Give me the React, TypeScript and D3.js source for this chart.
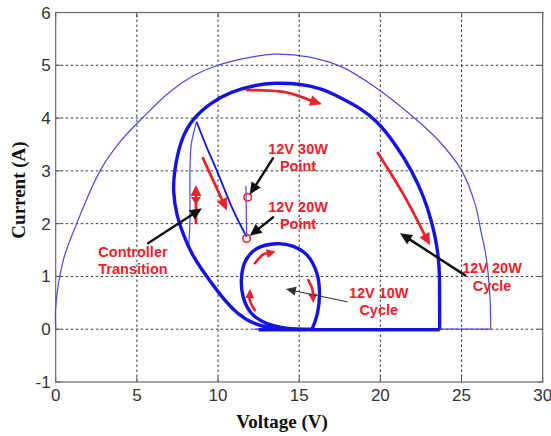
import React from 'react';
import * as d3 from 'd3';

type P = [number, number];

// Axes
const xTicks = [0, 5, 10, 15, 20, 25, 30];
const yTicks = [-1, 0, 1, 2, 3, 4, 5, 6];

// Source characteristic (thin outer trace), voltage V vs current A
const sourceArc: P[] = [
  [0, 0], [0, 0.42], [0.47, 1.31], [1.29, 2.0], [2.73, 3.0], [3.96, 3.55],
  [5.4, 4.02], [7.04, 4.5], [8.48, 4.8], [10, 5.0], [11.97, 5.15], [13.5, 5.21],
  [15.56, 5.16], [17.62, 4.97], [19.67, 4.59], [22.03, 4.02], [23.57, 3.58], [25.0, 3.01],
  [25.83, 2.38], [26.2, 1.85], [26.5, 1.4], [26.66, 0.99], [26.76, 0.55], [26.8, 0.0],
];
const sourceReturn: P[] = [[26.8, 0.0], [12.2, 0.0]];

// 12V 20W cycle
const cycle20: P[] = [
  [23.65, 0.0], [23.65, 0.4], [23.65, 0.8], [23.63, 1.2], [23.48, 1.6], [23.2, 2.0],
  [22.7, 2.5], [21.95, 3.0], [20.95, 3.5], [19.8, 3.95], [18.7, 4.2], [17.6, 4.38],
  [16.3, 4.57], [15.0, 4.65], [13.5, 4.67], [12.2, 4.62], [10.8, 4.5], [9.6, 4.3],
  [8.45, 4.0], [7.7, 3.6], [7.3, 3.0], [7.22, 2.6], [7.45, 2.15], [7.85, 1.8],
  [8.4, 1.4], [9.3, 1.0], [10.2, 0.62], [11.2, 0.28], [12.3, 0.08], [13.6, 0.0],
];
const cycle20Floor: P[] = [[12.5, -0.01], [23.65, -0.01]];

// Controller transition traces
const transitionLeft: P[] = [[8.2, 1.6], [8.27, 2.06], [8.27, 3.0], [8.35, 3.5], [8.68, 3.93]];
const transitionDiag: P[] = [[8.68, 3.93], [9.3, 3.45], [9.92, 3.01], [10.94, 2.25], [11.76, 1.75]];
const pointRise: P[] = [[11.76, 1.75], [11.72, 2.72]];

// 12V 10W cycle
const cycle10: P[] = [
  [15.8, 0], [16.12, 0.3], [16.25, 0.65], [16.1, 1.05], [15.5, 1.4], [14.64, 1.57],
  [13.6, 1.62], [12.4, 1.53], [11.7, 1.3], [11.45, 0.99], [11.55, 0.61], [12.06, 0.3],
  [12.98, 0.11], [14.2, 0.02], [15.8, 0],
];

// Operating points
const opPoints: P[] = [[11.83, 2.5], [11.76, 1.72]];

// Direction arrows (red) and callout arrows (black)
const redArrows: P[][] = [
  [[11.78, 4.53], [14.12, 4.49], [16.4, 4.26]],
  [[19.85, 3.34], [21.45, 2.54], [23.06, 1.59]],
  [[9.07, 3.24], [10.55, 2.25]],
  [[12.27, 1.25], [12.8, 1.42], [13.55, 1.47]],
  [[12.27, 0.36], [11.95, 0.55], [11.97, 0.76]],
  [[15.56, 0.93], [15.82, 0.75], [15.87, 0.5]],
];
const transitionMarker: P[] = [[8.64, 1.99], [8.64, 2.73]];
const blackArrows: P[][] = [
  [[13.39, 3.24], [11.95, 2.55]],
  [[13.39, 2.12], [11.95, 1.77]],
  [[5.69, 1.63], [9.01, 2.29]],
  [[25.22, 1.02], [21.21, 1.82]],
];
const thinArrows: P[][] = [[[17.94, 0.52], [14.18, 0.76]]];

// Annotation labels: [V, I] centre
const labelText: string[][] = [
  ['12V 30W', 'Point'],
  ['12V 20W', 'Point'],
  ['Controller', 'Transition'],
  ['12V 10W', 'Cycle'],
  ['12V 20W', 'Cycle'],
];
const labelPos: P[] = [[14.93, 3.26], [14.93, 2.16], [4.76, 1.31], [19.9, 0.53], [26.88, 0.99]];

const W = 551;
const H = 436;
const X0 = 55.7, X1 = 542.7, Y0 = 382, Y1 = 12.5;

const RED = '#e8232b';
const BLUE = '#1414e0';
const THIN = '#4a4ad6';

function arrowHead(tip: [number, number], from: [number, number], len: number, half: number) {
  const dx = tip[0] - from[0];
  const dy = tip[1] - from[1];
  const d = Math.hypot(dx, dy) || 1;
  const ux = dx / d, uy = dy / d;
  const bx = tip[0] - ux * len, by = tip[1] - uy * len;
  return `M${tip[0]},${tip[1]}L${bx - uy * half},${by + ux * half}L${bx + uy * half},${by - ux * half}Z`;
}

export default function App() {
  const x = d3.scaleLinear().domain([0, 30]).range([X0, X1]);
  const y = d3.scaleLinear().domain([-1, 6]).range([Y0, Y1]);
  const smooth = d3.line<P>().x(d => x(d[0])).y(d => y(d[1])).curve(d3.curveCatmullRom.alpha(0.5));
  const soft = d3.line<P>().x(d => x(d[0])).y(d => y(d[1])).curve(d3.curveBasis);
  const straight = d3.line<P>().x(d => x(d[0])).y(d => y(d[1]));
  const px = (p: P): [number, number] => [x(p[0]), y(p[1])];

  const arrow = (pts: P[], color: string, width: number, len: number, half: number, key: string) => {
    const sp = pts.map(px);
    const tip = sp[sp.length - 1];
    const prev = sp[sp.length - 2];
    const d = Math.hypot(tip[0] - prev[0], tip[1] - prev[1]);
    const t = Math.max(0, (d - len * 0.8) / d);
    const shaftEnd: [number, number] = [prev[0] + (tip[0] - prev[0]) * t, prev[1] + (tip[1] - prev[1]) * t];
    const shaftPts = [...sp.slice(0, -1), shaftEnd];
    const shaft = d3.line().curve(d3.curveCatmullRom)(shaftPts as [number, number][]) || '';
    return (
      <g key={key}>
        <path d={shaft} fill="none" stroke={color} strokeWidth={width} strokeLinecap="round" />
        <path d={arrowHead(tip, prev, len, half)} fill={color} />
      </g>
    );
  };

  const tm0 = px(transitionMarker[0]);
  const tm1 = px(transitionMarker[1]);

  return (
    <svg width={W} height={H} style={{ position: 'absolute', left: 0, top: 0, background: '#fff' }}
      fontFamily="'Liberation Sans', Arial, sans-serif">
      {/* grid */}
      <g stroke="#222" strokeWidth={0.9} strokeDasharray="2.5,2.5">
        {xTicks.slice(1, -1).map(t => (
          <line key={'gx' + t} x1={x(t)} x2={x(t)} y1={Y0} y2={Y1} />
        ))}
        {yTicks.slice(1, -1).map(t => (
          <line key={'gy' + t} x1={X0} x2={X1} y1={y(t)} y2={y(t)} />
        ))}
      </g>
      {/* ticks */}
      <g stroke="#555" strokeWidth={1}>
        {xTicks.map(t => (
          <g key={'tx' + t}>
            <line x1={x(t)} x2={x(t)} y1={Y0} y2={Y0 - 5} />
            <line x1={x(t)} x2={x(t)} y1={Y1} y2={Y1 + 5} />
          </g>
        ))}
        {yTicks.map(t => (
          <g key={'ty' + t}>
            <line x1={X0} x2={X0 + 5} y1={y(t)} y2={y(t)} />
            <line x1={X1} x2={X1 - 5} y1={y(t)} y2={y(t)} />
          </g>
        ))}
      </g>
      <rect x={X0} y={Y1} width={X1 - X0} height={Y0 - Y1} fill="none" stroke="#666" strokeWidth={1.2} />

      {/* tick labels */}
      <g fill="#333" fontSize={17}>
        {xTicks.map(t => (
          <text key={'lx' + t} x={x(t)} y={Y0 + 19} textAnchor="middle">{t}</text>
        ))}
        {yTicks.map(t => (
          <text key={'ly' + t} x={X0 - 5} y={y(t) + 6} textAnchor="end">{t}</text>
        ))}
      </g>

      {/* axis titles */}
      <text x={282} y={428} textAnchor="middle" fontFamily="'Liberation Serif', 'Times New Roman', serif"
        fontWeight="bold" fontSize={19} fill="#111">Voltage (V)</text>
      <text transform="translate(25,190) rotate(-90)" textAnchor="middle"
        fontFamily="'Liberation Serif', 'Times New Roman', serif" fontWeight="bold" fontSize={19} fill="#111">Current (A)</text>

      {/* traces */}
      <path d={smooth(sourceArc) || ''} fill="none" stroke={THIN} strokeWidth={1.2} />
      <path d={straight(sourceReturn) || ''} fill="none" stroke={THIN} strokeWidth={1.2} />
      <path d={smooth(transitionLeft) || ''} fill="none" stroke={THIN} strokeWidth={1.2} />
      <path d={smooth(transitionDiag) || ''} fill="none" stroke={BLUE} strokeWidth={1.8} />
      <path d={straight(pointRise) || ''} fill="none" stroke={THIN} strokeWidth={1.2} />
      <path d={soft(cycle20) || ''} fill="none" stroke={BLUE} strokeWidth={3.4} />
      <path d={straight(cycle20Floor) || ''} fill="none" stroke={BLUE} strokeWidth={3.4} />
      <path d={smooth(cycle10) || ''} fill="none" stroke={BLUE} strokeWidth={3.4} />

      {/* operating points */}
      {opPoints.map((p, i) => (
        <circle key={'op' + i} cx={x(p[0])} cy={y(p[1])} r={3.8} fill="none" stroke={RED} strokeWidth={1.6} />
      ))}

      {/* red direction arrows */}
      {redArrows.map((a, i) => arrow(a, RED, i >= 3 ? 2.6 : 2.8, i >= 3 ? 9 : 12, i >= 3 ? 4.5 : 5.5, 'ra' + i))}
      <g>
        <line x1={tm0[0]} y1={tm0[1]} x2={tm1[0]} y2={tm1[1] + 8} stroke={RED} strokeWidth={2.8} />
        <path d={arrowHead(tm1, [tm1[0], tm1[1] + 20], 11, 5.5)} fill={RED} />
        <path d={arrowHead([tm1[0], tm1[1] + 20], tm1, 8, 5)} fill={RED} />
      </g>

      {/* black callout arrows */}
      {blackArrows.map((a, i) => arrow(a, '#111', 2.4, 12, 5.5, 'ba' + i))}
      {thinArrows.map((a, i) => arrow(a, '#333', 1.2, 10, 4.5, 'ta' + i))}

      {/* labels */}
      <g fill={RED} fontWeight="bold" fontSize={14.5} textAnchor="middle">
        {labelText.map((lines, i) => (
          <text key={'lab' + i} x={x(labelPos[i][0])} y={y(labelPos[i][1])}>
            {lines.map((ln, j) => (
              <tspan key={j} x={x(labelPos[i][0])} dy={j === 0 ? -3.5 : 17.5}>{ln}</tspan>
            ))}
          </text>
        ))}
      </g>
    </svg>
  );
}
